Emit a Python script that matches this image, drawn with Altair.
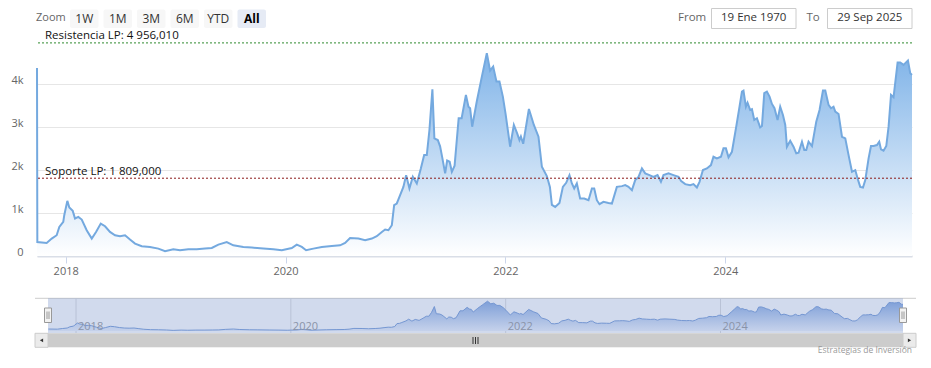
import altair as alt
import pandas as pd

# ---------------- data ----------------
year_pos = [
    2017.739, 2017.742, 2017.827, 2017.873, 2017.918, 2017.942, 2017.978, 2017.987, 2018.015, 2018.033,
    2018.064, 2018.085, 2018.115, 2018.146, 2018.191, 2018.237, 2018.276, 2018.319, 2018.358, 2018.403,
    2018.449, 2018.494, 2018.540, 2018.585, 2018.631, 2018.692, 2018.767, 2018.843, 2018.904, 2018.979,
    2019.040, 2019.116, 2019.192, 2019.268, 2019.329, 2019.389, 2019.465, 2019.525, 2019.616, 2019.693,
    2019.798, 2019.889, 2019.966, 2020.057, 2020.102, 2020.148, 2020.187, 2020.253, 2020.330, 2020.421,
    2020.496, 2020.542, 2020.587, 2020.663, 2020.724, 2020.785, 2020.830, 2020.876, 2020.906, 2020.936,
    2020.967, 2020.988, 2021.012, 2021.027, 2021.072, 2021.097, 2021.127, 2021.158, 2021.194, 2021.231,
    2021.261, 2021.285, 2021.309, 2021.336, 2021.354, 2021.385, 2021.406, 2021.425, 2021.452, 2021.470,
    2021.493, 2021.513, 2021.538, 2021.575, 2021.602, 2021.641, 2021.664, 2021.679, 2021.698, 2021.740,
    2021.786, 2021.831, 2021.861, 2021.889, 2021.919, 2021.946, 2021.977, 2022.002, 2022.043, 2022.077,
    2022.107, 2022.128, 2022.141, 2022.162, 2022.214, 2022.259, 2022.301, 2022.332, 2022.377, 2022.405,
    2022.423, 2022.453, 2022.492, 2022.523, 2022.553, 2022.583, 2022.605, 2022.626, 2022.650, 2022.680,
    2022.717, 2022.756, 2022.787, 2022.808, 2022.832, 2022.856, 2022.892, 2022.938, 2022.969, 2023.014,
    2023.060, 2023.090, 2023.120, 2023.151, 2023.181, 2023.211, 2023.242, 2023.272, 2023.311, 2023.347,
    2023.384, 2023.415, 2023.438, 2023.484, 2023.529, 2023.575, 2023.599, 2023.636, 2023.681, 2023.711,
    2023.742, 2023.766, 2023.797, 2023.833, 2023.870, 2023.893, 2023.924, 2023.961, 2023.984, 2024.006,
    2024.030, 2024.061, 2024.100, 2024.130, 2024.152, 2024.166, 2024.188, 2024.203, 2024.227, 2024.243,
    2024.264, 2024.288, 2024.318, 2024.334, 2024.355, 2024.379, 2024.403, 2024.425, 2024.448, 2024.476,
    2024.500, 2024.525, 2024.546, 2024.561, 2024.591, 2024.621, 2024.646, 2024.667, 2024.698, 2024.719,
    2024.737, 2024.758, 2024.789, 2024.828, 2024.858, 2024.889, 2024.910, 2024.940, 2024.962, 2024.985,
    2025.001, 2025.031, 2025.062, 2025.092, 2025.122, 2025.153, 2025.183, 2025.204, 2025.228, 2025.253,
    2025.274, 2025.304, 2025.326, 2025.349, 2025.380, 2025.401, 2025.417, 2025.440, 2025.465, 2025.486,
    2025.508, 2025.531, 2025.568, 2025.592, 2025.622, 2025.638, 2025.662, 2025.683, 2025.699,
]
price = [
    4370, 326, 303, 405, 483, 676, 793, 949, 1282, 1128,
    1049, 872, 909, 848, 599, 406, 559, 755, 692, 559,
    483, 459, 483, 382, 289, 226, 210, 172, 110, 156,
    133, 156, 156, 172, 186, 266, 326, 249, 210, 196,
    172, 156, 133, 186, 266, 210, 133, 172, 210, 233,
    249, 303, 420, 406, 366, 406, 459, 559, 615, 599,
    716, 1182, 1221, 1315, 1608, 1881, 1571, 1841, 1688, 2037,
    2347, 2347, 2930, 3879, 2737, 2697, 2550, 2300, 1921, 2220,
    2191, 1958, 2100, 3203, 3203, 3746, 3473, 3436, 3007, 3600,
    4172, 4718, 4310, 4406, 4056, 4056, 3706, 3300, 2541, 3047,
    2853, 2697, 2780, 2610, 3420, 3047, 2774, 2075, 1860, 1608,
    1190, 1142, 1235, 1608, 1702, 1881, 1688, 1571, 1688, 1338,
    1338, 1298, 1571, 1571, 1298, 1205, 1259, 1235, 1221, 1608,
    1625, 1648, 1608, 1531, 1765, 1841, 2037, 1921, 1881, 1841,
    1881, 1725, 1881, 1921, 1881, 1841, 1740, 1671, 1648, 1671,
    1594, 1725, 1998, 2037, 2114, 2308, 2270, 2308, 2503, 2503,
    2294, 2424, 3007, 3473, 3823, 3846, 3473, 3566, 3396, 3413,
    3163, 3203, 2993, 3023, 3786, 3823, 3706, 3536, 3436, 3163,
    3473, 3280, 3047, 2541, 2681, 2541, 2387, 2401, 2657, 2464,
    2464, 2657, 2557, 3124, 3396, 3846, 3846, 3513, 3436, 3473,
    3357, 3303, 2774, 2737, 2347, 1958, 1998, 1804, 1608, 1594,
    1765, 2270, 2557, 2557, 2580, 2657, 2480, 2448, 2557, 3007,
    3746, 3692, 4499, 4499, 4445, 4485, 4545, 4252, 4212,
]
year_ticks = [2018, 2020, 2022, 2024]
y_ticks = [0, 1000, 2000, 3000, 4000]
level_values = [4956.010, 1809.000]
level_labels = ["Resistencia LP: 4 956,010", "Soporte LP: 1 809,000"]
zoom_buttons = ["1W", "1M", "3M", "6M", "YTD", "All"]
selected_button = "All"
date_from, date_to = "19 Ene 1970", "29 Sep 2025"
credit = "Estrategias de Inversión"

df = pd.DataFrame({"yr": year_pos, "price": price})
ticks_df = pd.DataFrame({"t": year_ticks})
one = pd.DataFrame({"k": [0]})

# ---------------- layout ----------------
FONT = "Open Sans"
X0, Y0 = 37, 41          # page position of the plot origin
W, H = 875, 215


def px(x):
    return x - X0


def py(y):
    return y - Y0


main_x = alt.Scale(domain=[year_pos[0], year_pos[-1]], range=[0, W], nice=False, zero=False)
main_y = alt.Scale(domain=[0, 5000], range=[H, 0], nice=False, zero=True)

NAV_L, NAV_R, NAV_T, NAV_B = 48, 903, 298.3, 333.3
SB_L, SB_R, SB_T, SB_B = 35, 916, 333.3, 347.3
nav_lo, nav_hi = min(price[1:]), max(price)
nav_pad = 0.1 * (nav_hi - nav_lo)
nav_x = alt.Scale(domain=[year_pos[0], year_pos[-1]], range=[px(NAV_L), px(NAV_R)], nice=False, zero=False)
nav_y = alt.Scale(domain=[nav_lo - nav_pad, nav_hi + nav_pad], range=[py(NAV_B), py(NAV_T)], nice=False, zero=False)


def txt(s, x, y, size=11, color="#666666", align="left", baseline="middle", weight="normal"):
    return alt.Chart(one).mark_text(
        text=s, align=align, baseline=baseline, fontSize=size, font=FONT,
        color=color, fontWeight=weight
    ).encode(x=alt.value(px(x)), y=alt.value(py(y)))


def box(x0, y0, x1, y1, fill, stroke=None, sw=1, opacity=1.0, r=0):
    kw = dict(fill=fill, opacity=opacity)
    if stroke:
        kw.update(stroke=stroke, strokeWidth=sw)
    else:
        kw.update(strokeWidth=0)
    if r:
        kw["cornerRadius"] = r
    return alt.Chart(one).mark_rect(**kw).encode(
        x=alt.value(px(x0)), x2=alt.value(px(x1)), y=alt.value(py(y0)), y2=alt.value(py(y1))
    )


def hline(x0, x1, y, color, sw=1):
    return alt.Chart(one).mark_rule(color=color, strokeWidth=sw).encode(
        x=alt.value(px(x0)), x2=alt.value(px(x1)), y=alt.value(py(y))
    )


def vline(x, y0, y1, color, sw=1):
    return alt.Chart(one).mark_rule(color=color, strokeWidth=sw).encode(
        x=alt.value(px(x)), y=alt.value(py(y0)), y2=alt.value(py(y1))
    )


layers = []

# range selector
layers.append(txt("Zoom", 36, 18, size=11, color="#666666"))
for i, b in enumerate(zoom_buttons):
    bx = 70 + 33.5 * i
    sel = b == selected_button
    layers.append(box(bx, 9.5, bx + 28.5, 28, fill="#e6ebf5" if sel else "#f7f7f7", r=2))
    layers.append(txt(b, bx + 14.25, 18.5, size=12, color="#000000" if sel else "#333333",
                      align="center", weight="bold" if sel else "normal"))

# date inputs
layers.append(txt("From", 678, 17.5, size=11.5, color="#666666"))
layers.append(box(711.5, 8.5, 796, 28.5, fill="#ffffff", stroke="#cccccc"))
layers.append(txt(date_from, 753.7, 18.3, size=11.5, color="#333333", align="center"))
layers.append(txt("To", 806.5, 17.5, size=11.5, color="#666666"))
layers.append(box(827.5, 8.5, 912, 28.5, fill="#ffffff", stroke="#cccccc"))
layers.append(txt(date_to, 869.8, 18.3, size=11.5, color="#333333", align="center"))

# main series
main_grad = alt.Gradient(
    gradient="linear",
    stops=[alt.GradientStop(color="#ffffff", offset=0), alt.GradientStop(color="#7fb3e8", offset=1)],
    x1=1, x2=1, y1=1, y2=0,
)
area = alt.Chart(df).mark_area(color=main_grad).encode(
    x=alt.X("yr:Q", scale=main_x, title=None,
            axis=alt.Axis(values=year_ticks, format="d", grid=False, domainColor="#d9dee7",
                          domainWidth=2, tickColor="#ccd6eb", tickSize=7, labelPadding=2,
                          labelColor="#666666", labelFontSize=11, labelFont=FONT,
                          labelFlush=False, labelOverlap=False)),
    y=alt.Y("price:Q", scale=main_y, title=None,
            axis=alt.Axis(values=y_ticks, grid=True, gridColor="#e6e6e6",
                          labelExpr="datum.value == 0 ? '0' : (datum.value / 1000) + 'k'",
                          domain=False, ticks=False, tickSize=0, labelPadding=14,
                          labelBaseline="alphabetic", labelOffset=-1, labelColor="#666666",
                          labelFontSize=11, labelFont=FONT)),
)
line = alt.Chart(df).mark_line(color="#74a9df", strokeWidth=2).encode(
    x=alt.X("yr:Q", scale=main_x, axis=None),
    y=alt.Y("price:Q", scale=main_y, axis=None),
)
layers += [area, line]

# support / resistance
level_colors = ["#2e8b2e", "#8b1a1a"]
for v, lab, col in zip(level_values, level_labels, level_colors):
    d = pd.DataFrame({"v": [v], "label": [lab]})
    layers.append(alt.Chart(d).mark_rule(color=col, strokeWidth=1, strokeDash=[2, 2]).encode(
        y=alt.Y("v:Q", scale=main_y, axis=None)))
    layers.append(alt.Chart(d).mark_text(align="left", baseline="alphabetic", dy=-3.5, fontSize=11.5,
                                         font=FONT, color="#111111").encode(
        x=alt.value(8), y=alt.Y("v:Q", scale=main_y, axis=None), text="label:N"))

# navigator
layers.append(hline(SB_L, SB_R, NAV_T, "#cccccc"))
layers.append(box(NAV_L, NAV_T, NAV_R, NAV_B, fill="#6685c2", opacity=0.3))
layers.append(alt.Chart(ticks_df).mark_rule(color="#b9c2d6", strokeWidth=1).encode(
    x=alt.X("t:Q", scale=nav_x, axis=None), y=alt.value(py(NAV_T)), y2=alt.value(py(NAV_B))))
nav_grad = alt.Gradient(
    gradient="linear",
    stops=[alt.GradientStop(color="#c6d2eb", offset=0), alt.GradientStop(color="#7e9fd8", offset=1)],
    x1=1, x2=1, y1=1, y2=0,
)
nav_df = df.iloc[1:]  # navigator data grouping smooths out the first tick
layers.append(alt.Chart(nav_df).mark_area(color=nav_grad).encode(
    x=alt.X("yr:Q", scale=nav_x, axis=None),
    y=alt.Y("price:Q", scale=nav_y, axis=None),
    y2=alt.value(py(NAV_B))))
layers.append(alt.Chart(nav_df).mark_line(color="#7597d2", strokeWidth=1).encode(
    x=alt.X("yr:Q", scale=nav_x, axis=None),
    y=alt.Y("price:Q", scale=nav_y, axis=None)))
layers.append(alt.Chart(ticks_df).mark_text(align="left", baseline="alphabetic", dx=2, fontSize=11,
                                            font=FONT, color="#8a93a8").encode(
    x=alt.X("t:Q", scale=nav_x, axis=None), y=alt.value(py(329.5)), text=alt.Text("t:Q", format="d")))

# handles
for hx in (NAV_L, NAV_R):
    layers.append(box(hx - 3.5, 308, hx + 3.5, 322.5, fill="#f2f2f2", stroke="#999999"))
    layers.append(vline(hx - 1, 311.5, 319, "#999999"))
    layers.append(vline(hx + 1, 311.5, 319, "#999999"))

# scrollbar
layers.append(box(SB_L, SB_T, SB_R, SB_B, fill="#f2f2f2"))
layers.append(box(NAV_L, SB_T, NAV_R, SB_B, fill="#cccccc"))
layers.append(box(SB_L, SB_T, NAV_L, SB_B, fill="#ebebeb", stroke="#cccccc"))
layers.append(box(NAV_R, SB_T, SB_R, SB_B, fill="#ebebeb", stroke="#cccccc"))
layers.append(alt.Chart(one).mark_point(shape="triangle-left", filled=True, size=14, color="#333333",
                                        opacity=1).encode(
    x=alt.value(px(41.5)), y=alt.value(py(340.3))))
layers.append(alt.Chart(one).mark_point(shape="triangle-right", filled=True, size=14, color="#333333",
                                        opacity=1).encode(
    x=alt.value(px(909.5)), y=alt.value(py(340.3))))
mid = (NAV_L + NAV_R) / 2
for dxg in (-2.5, 0, 2.5):
    layers.append(vline(mid + dxg, 337, 344, "#333333"))

# credits
layers.append(txt(credit, 912, 353, size=8.5, color="#999999", align="right", baseline="alphabetic"))

chart = alt.layer(*layers).resolve_scale(x="independent", y="independent").properties(
    width=W, height=H,
    autosize=alt.AutoSizeParams(type="none"),
    padding={"left": 29, "top": 33, "right": 10, "bottom": 100},
).configure_view(stroke=None)

chart.save("out.html", embed_options={"renderer": "svg", "actions": False})
